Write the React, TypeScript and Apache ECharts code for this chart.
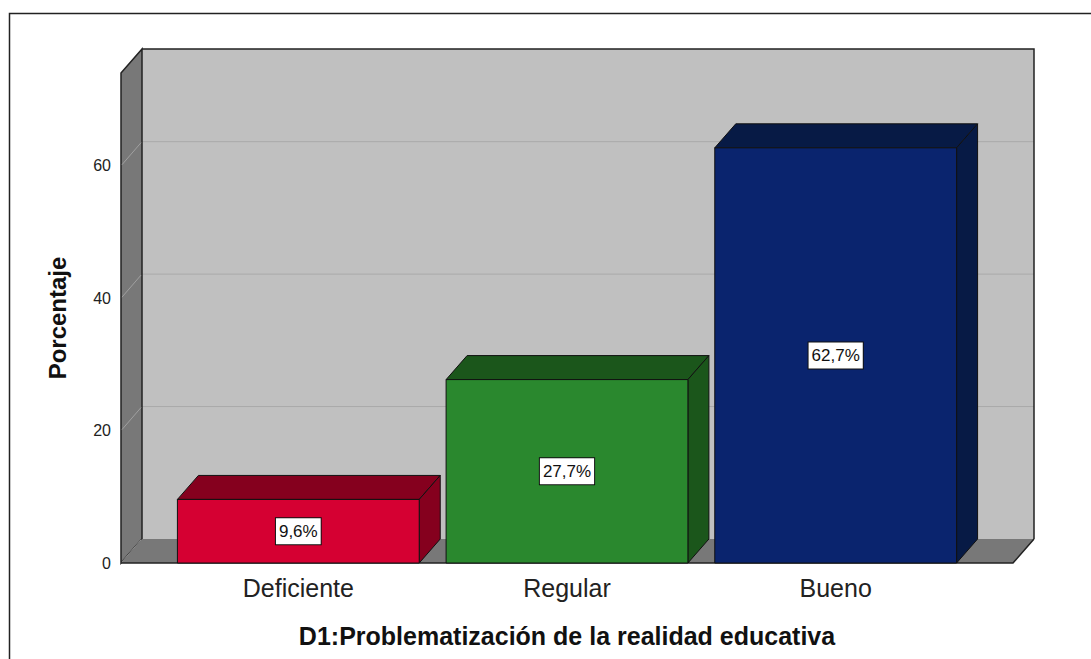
import React, { useEffect, useRef } from "react";
import * as echarts from "echarts";

const categories = ["Deficiente", "Regular", "Bueno"];
const percentages = [9.6, 27.7, 62.7];
const valueLabels = ["9,6%", "27,7%", "62,7%"];
const yTicks = [0, 20, 40, 60];
const frontColors = ["#D50032", "#2A882E", "#0A246E"];
const topColors = ["#85001E", "#1B561B", "#071A45"];
const sideColors = ["#85001E", "#1B561B", "#071A45"];

const X_MIN = -0.66;
const X_MAX = 2.66;
const Y_MAX = 74;
const HALF = 0.45;
const DX = 21;
const DY = -24;
const FONT = '"Liberation Sans", Arial, sans-serif';

export default function App() {
  const ref = useRef<HTMLDivElement>(null);
  useEffect(() => {
    if (!ref.current) return;
    const chart = echarts.init(ref.current, undefined, { renderer: "svg" });
    const option: any = {
      animation: false,
      backgroundColor: "#ffffff",
      grid: { left: 121, right: 78, top: 73, bottom: 96, outerBoundsMode: "none" },
      xAxis: {
        type: "value",
        min: X_MIN,
        max: X_MAX,
        axisLine: { show: false },
        axisTick: { show: false },
        axisLabel: { show: false },
        splitLine: { show: false },
        name: "D1:Problematización de la realidad educativa",
        nameLocation: "middle",
        nameGap: 60,
        nameTextStyle: { fontFamily: FONT, fontSize: 25, fontWeight: "bold", color: "#111" },
      },
      yAxis: {
        type: "value",
        min: 0,
        max: Y_MAX,
        interval: 20,
        axisLine: { show: false },
        axisTick: { show: false },
        splitLine: { show: false },
        axisLabel: {
          margin: 10,
          fontFamily: FONT,
          fontSize: 16,
          color: "#222",
          showMaxLabel: false,
          formatter: (v: number) => (yTicks.includes(v) ? String(v) : ""),
        },
        name: "Porcentaje",
        nameLocation: "middle",
        nameGap: 52,
        nameTextStyle: { fontFamily: FONT, fontSize: 24, fontWeight: "bold", color: "#111" },
      },
      graphic: [
        {
          type: "rect",
          shape: { x: 9.5, y: 13.5, width: 1200, height: 800 },
          style: { fill: "none", stroke: "#222", lineWidth: 1.5 },
          silent: true,
        },
      ],
      series: [
        {
          type: "custom",
          clip: false,
          z: 1,
          data: [[X_MIN, 0]],
          encode: { x: 0, y: 1 },
          renderItem: (_p: any, api: any) => {
            const [x0, y0] = api.coord([X_MIN, 0]);
            const [x1, yTop] = api.coord([X_MAX, Y_MAX]);
            const children: any[] = [];
            children.push({
              type: "rect",
              shape: { x: x0 + DX, y: yTop + DY, width: x1 - x0, height: y0 - yTop },
              style: { fill: "#C0C0C0", stroke: "none" },
            });
            yTicks.forEach((t) => {
              if (t === 0) return;
              const [, yy] = api.coord([X_MIN, t]);
              children.push({
                type: "line",
                shape: { x1: x0 + DX, y1: yy + DY, x2: x1 + DX, y2: yy + DY },
                style: { stroke: "#A9A9A9", lineWidth: 1 },
              });
            });
            children.push({
              type: "polyline",
              shape: { points: [[x0 + DX, yTop + DY], [x1 + DX, yTop + DY], [x1 + DX, y0 + DY]] },
              style: { stroke: "#222", lineWidth: 1.5, fill: "none" },
            });
            children.push({
              type: "polygon",
              shape: { points: [[x0, yTop], [x0 + DX, yTop + DY], [x0 + DX, y0 + DY], [x0, y0]] },
              style: { fill: "#787878", stroke: "#222", lineWidth: 1.5 },
            });
            yTicks.forEach((t) => {
              const [, yy] = api.coord([X_MIN, t]);
              children.push({
                type: "line",
                shape: { x1: x0 + 1, y1: yy - 1, x2: x0 + DX - 1, y2: yy + DY + 1 },
                style: { stroke: "#A0A0A0", lineWidth: 1 },
              });
            });
            children.push({
              type: "polygon",
              shape: { points: [[x0, y0], [x1, y0], [x1 + DX, y0 + DY], [x0 + DX, y0 + DY]] },
              style: { fill: "#787878", stroke: "none" },
            });
            children.push({
              type: "polyline",
              shape: { points: [[x0, y0], [x1, y0], [x1 + DX, y0 + DY]] },
              style: { stroke: "#222", lineWidth: 1.5, fill: "none" },
            });
            return { type: "group", children };
          },
        },
        {
          type: "custom",
          clip: false,
          z: 2,
          data: percentages.map((v, i) => [i, v]),
          encode: { x: 0, y: 1 },
          renderItem: (p: any, api: any) => {
            const i = api.value(0);
            const v = api.value(1);
            const [xl, yt] = api.coord([i - HALF, v]);
            const [xr, yb] = api.coord([i + HALF, 0]);
            const [cx] = api.coord([i, 0]);
            const idx = p.dataIndex;
            const stroke = { stroke: "#111", lineWidth: 1 };
            return {
              type: "group",
              children: [
                {
                  type: "polygon",
                  shape: { points: [[xl, yt], [xl + DX, yt + DY], [xr + DX, yt + DY], [xr, yt]] },
                  style: { fill: topColors[idx], ...stroke },
                },
                {
                  type: "polygon",
                  shape: { points: [[xr, yt], [xr + DX, yt + DY], [xr + DX, yb + DY], [xr, yb]] },
                  style: { fill: sideColors[idx], ...stroke },
                },
                {
                  type: "rect",
                  shape: { x: xl, y: yt, width: xr - xl, height: yb - yt },
                  style: { fill: frontColors[idx], ...stroke },
                },
                {
                  type: "text",
                  style: {
                    text: valueLabels[idx],
                    x: cx,
                    y: (yt + yb) / 2,
                    align: "center",
                    verticalAlign: "middle",
                    fontFamily: FONT,
                    fontSize: 17,
                    fill: "#111",
                    backgroundColor: "#ffffff",
                    borderColor: "#111",
                    borderWidth: 1,
                    padding: [5, 3, 4, 3],
                  },
                },
                {
                  type: "text",
                  style: {
                    text: categories[idx],
                    x: cx,
                    y: yb + 25,
                    align: "center",
                    verticalAlign: "middle",
                    fontFamily: FONT,
                    fontSize: 25,
                    fill: "#222",
                  },
                },
              ],
            };
          },
        },
      ],
    };
    chart.setOption(option);
    return () => chart.dispose();
  }, []);
  return (
    <div
      ref={ref}
      style={{ position: "fixed", left: 0, top: 0, width: 1091, height: 659 }}
    />
  );
}
